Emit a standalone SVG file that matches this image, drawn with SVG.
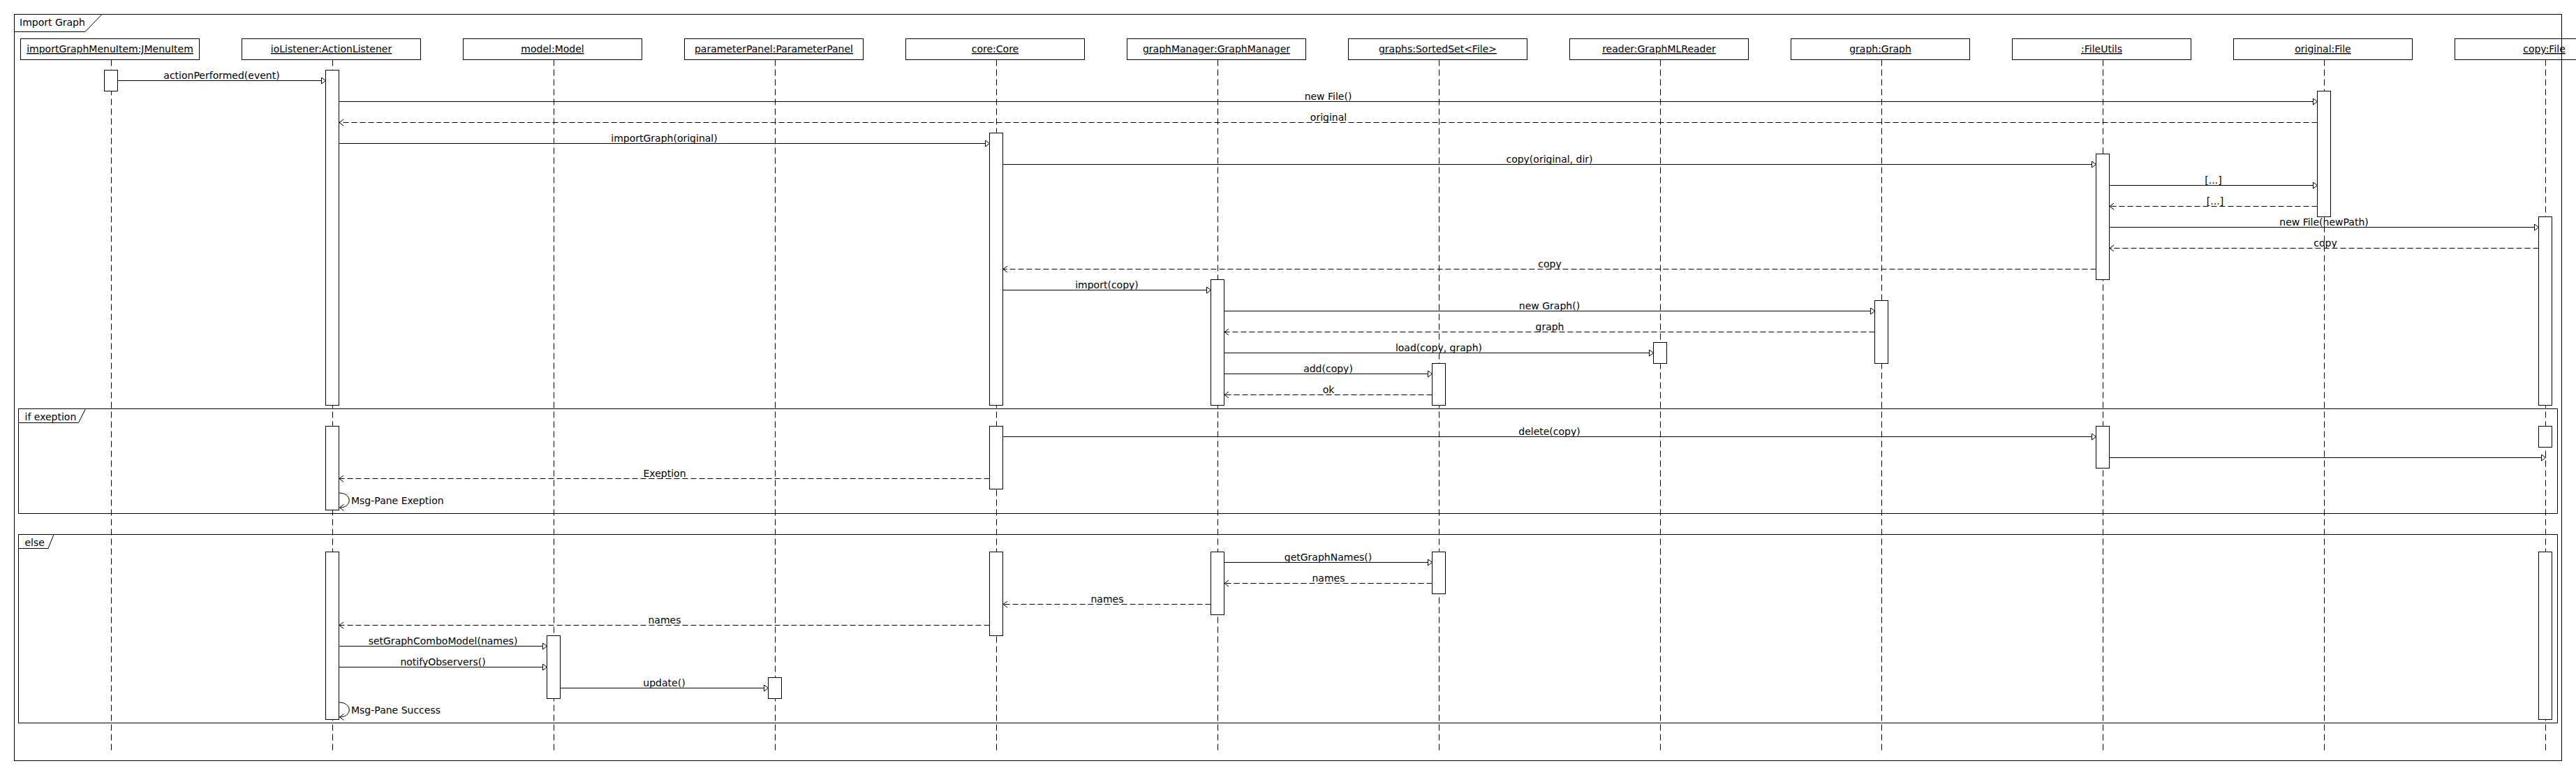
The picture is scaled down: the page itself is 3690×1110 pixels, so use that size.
<svg xmlns="http://www.w3.org/2000/svg" width="3690" height="1110" viewBox="0 0 3690 1110">
<defs>
<marker id="sync" viewBox="0 0 7 10" refX="6.5" refY="5" markerWidth="7" markerHeight="10" markerUnits="userSpaceOnUse" orient="auto"><path d="M0.5,0.5 L6.5,5 L0.5,9.5 Z" fill="#fff" stroke="#000" stroke-width="1"/></marker>
<marker id="open" viewBox="0 0 7 10" refX="6.5" refY="5" markerWidth="7" markerHeight="10" markerUnits="userSpaceOnUse" orient="auto"><path d="M0.5,0.5 L6.5,5 L0.5,9.5" fill="none" stroke="#000" stroke-width="1"/></marker>
</defs>
<style>
text{font-family:"DejaVu Sans","Liberation Sans",sans-serif;font-size:14px;fill:#000}
.hd{fill:#fff;stroke:#000;stroke-width:1}
.nm{text-anchor:middle;text-decoration:underline}
.life{stroke:#000;stroke-width:1;stroke-dasharray:9 5;fill:none}
.act{fill:#fff;stroke:#000;stroke-width:1}
.msg{stroke:#000;stroke-width:1;fill:none;marker-end:url(#sync)}
.ret{stroke:#000;stroke-width:1;fill:none;stroke-dasharray:8 4;marker-end:url(#open)}
.self{stroke:#000;stroke-width:1;fill:none;marker-end:url(#open)}
.lbl{text-anchor:middle}
.frm{fill:none;stroke:#000;stroke-width:1}
.tab{fill:#fff;stroke:#000;stroke-width:1}
</style>
<rect x="0" y="0" width="3690" height="1110" fill="#fff"/>

<g id="importGraphMenuItem">
<line class="life" x1="159.5" y1="85.5" x2="159.5" y2="1075"/>
<rect class="hd" x="29.5" y="55.5" width="256" height="30"/>
<text class="nm" x="157.5" y="75">importGraphMenuItem:JMenuItem</text>
<rect class="act" x="149.5" y="100.5" width="19" height="30"/>
</g>
<g id="ioListener">
<line class="life" x1="476.5" y1="85.5" x2="476.5" y2="1075"/>
<rect class="hd" x="346.5" y="55.5" width="256" height="30"/>
<text class="nm" x="474.5" y="75">ioListener:ActionListener</text>
<rect class="act" x="466.5" y="100.5" width="19" height="480"/>
<rect class="act" x="466.5" y="610.5" width="19" height="120"/>
<rect class="act" x="466.5" y="790.5" width="19" height="240"/>
</g>
<g id="model">
<line class="life" x1="793.5" y1="85.5" x2="793.5" y2="1075"/>
<rect class="hd" x="663.5" y="55.5" width="256" height="30"/>
<text class="nm" x="791.5" y="75">model:Model</text>
<rect class="act" x="783.5" y="910.5" width="19" height="90"/>
</g>
<g id="parameterPanel">
<line class="life" x1="1110.5" y1="85.5" x2="1110.5" y2="1075"/>
<rect class="hd" x="980.5" y="55.5" width="256" height="30"/>
<text class="nm" x="1108.5" y="75">parameterPanel:ParameterPanel</text>
<rect class="act" x="1100.5" y="970.5" width="19" height="30"/>
</g>
<g id="core">
<line class="life" x1="1427.5" y1="85.5" x2="1427.5" y2="1075"/>
<rect class="hd" x="1297.5" y="55.5" width="256" height="30"/>
<text class="nm" x="1425.5" y="75">core:Core</text>
<rect class="act" x="1417.5" y="190.5" width="19" height="390"/>
<rect class="act" x="1417.5" y="610.5" width="19" height="90"/>
<rect class="act" x="1417.5" y="790.5" width="19" height="120"/>
</g>
<g id="graphManager">
<line class="life" x1="1744.5" y1="85.5" x2="1744.5" y2="1075"/>
<rect class="hd" x="1614.5" y="55.5" width="256" height="30"/>
<text class="nm" x="1742.5" y="75">graphManager:GraphManager</text>
<rect class="act" x="1734.5" y="400.5" width="19" height="180"/>
<rect class="act" x="1734.5" y="790.5" width="19" height="90"/>
</g>
<g id="graphs">
<line class="life" x1="2061.5" y1="85.5" x2="2061.5" y2="1075"/>
<rect class="hd" x="1931.5" y="55.5" width="256" height="30"/>
<text class="nm" x="2059.5" y="75">graphs:SortedSet&lt;File&gt;</text>
<rect class="act" x="2051.5" y="520.5" width="19" height="60"/>
<rect class="act" x="2051.5" y="790.5" width="19" height="60"/>
</g>
<g id="reader">
<line class="life" x1="2378.5" y1="85.5" x2="2378.5" y2="1075"/>
<rect class="hd" x="2248.5" y="55.5" width="256" height="30"/>
<text class="nm" x="2376.5" y="75">reader:GraphMLReader</text>
<rect class="act" x="2368.5" y="490.5" width="19" height="30"/>
</g>
<g id="graph">
<line class="life" x1="2695.5" y1="85.5" x2="2695.5" y2="1075"/>
<rect class="hd" x="2565.5" y="55.5" width="256" height="30"/>
<text class="nm" x="2693.5" y="75">graph:Graph</text>
<rect class="act" x="2685.5" y="430.5" width="19" height="90"/>
</g>
<g id="fileUtils">
<line class="life" x1="3012.5" y1="85.5" x2="3012.5" y2="1075"/>
<rect class="hd" x="2882.5" y="55.5" width="256" height="30"/>
<text class="nm" x="3010.5" y="75">:FileUtils</text>
<rect class="act" x="3002.5" y="220.5" width="19" height="180"/>
<rect class="act" x="3002.5" y="610.5" width="19" height="60"/>
</g>
<g id="original">
<line class="life" x1="3329.5" y1="85.5" x2="3329.5" y2="1075"/>
<rect class="hd" x="3199.5" y="55.5" width="256" height="30"/>
<text class="nm" x="3327.5" y="75">original:File</text>
<rect class="act" x="3319.5" y="130.5" width="19" height="180"/>
</g>
<g id="copy">
<line class="life" x1="3646.5" y1="85.5" x2="3646.5" y2="1075"/>
<rect class="hd" x="3516.5" y="55.5" width="256" height="30"/>
<text class="nm" x="3644.5" y="75">copy:File</text>
<rect class="act" x="3636.5" y="310.5" width="19" height="270"/>
<rect class="act" x="3636.5" y="610.5" width="19" height="30"/>
<rect class="act" x="3636.5" y="790.5" width="19" height="240"/>
</g>

<g id="connectors">
<line class="msg" x1="168.5" y1="115.5" x2="466.5" y2="115.5"/>
<text class="lbl" x="317.5" y="112.5">actionPerformed(event)</text>
<line class="msg" x1="485.5" y1="145.5" x2="3319.5" y2="145.5"/>
<text class="lbl" x="1902.5" y="142.5">new File()</text>
<line class="ret" x1="3319.5" y1="175.5" x2="486" y2="175.5"/>
<text class="lbl" x="1903" y="172.5">original</text>
<line class="msg" x1="485.5" y1="205.5" x2="1417.5" y2="205.5"/>
<text class="lbl" x="951.5" y="202.5">importGraph(original)</text>
<line class="msg" x1="1436.5" y1="235.5" x2="3002.5" y2="235.5"/>
<text class="lbl" x="2219.5" y="232.5">copy(original, dir)</text>
<line class="msg" x1="3021.5" y1="265.5" x2="3319.5" y2="265.5"/>
<text class="lbl" x="3170.5" y="262.5">[...]</text>
<line class="ret" x1="3319.5" y1="295.5" x2="3022" y2="295.5"/>
<text class="lbl" x="3173" y="292.5">[...]</text>
<line class="msg" x1="3021.5" y1="325.5" x2="3636.5" y2="325.5"/>
<text class="lbl" x="3329" y="322.5">new File(newPath)</text>
<line class="ret" x1="3636.5" y1="355.5" x2="3022" y2="355.5"/>
<text class="lbl" x="3331" y="352.5">copy</text>
<line class="ret" x1="3002.5" y1="385.5" x2="1437" y2="385.5"/>
<text class="lbl" x="2220" y="382.5">copy</text>
<line class="msg" x1="1436.5" y1="415.5" x2="1734.5" y2="415.5"/>
<text class="lbl" x="1585.5" y="412.5">import(copy)</text>
<line class="msg" x1="1753.5" y1="445.5" x2="2685.5" y2="445.5"/>
<text class="lbl" x="2219.5" y="442.5">new Graph()</text>
<line class="ret" x1="2685.5" y1="475.5" x2="1754" y2="475.5"/>
<text class="lbl" x="2220" y="472.5">graph</text>
<line class="msg" x1="1753.5" y1="505.5" x2="2368.5" y2="505.5"/>
<text class="lbl" x="2061" y="502.5">load(copy, graph)</text>
<line class="msg" x1="1753.5" y1="535.5" x2="2051.5" y2="535.5"/>
<text class="lbl" x="1902.5" y="532.5">add(copy)</text>
<line class="ret" x1="2051.5" y1="565.5" x2="1754" y2="565.5"/>
<text class="lbl" x="1903" y="562.5">ok</text>

<line class="msg" x1="1436.5" y1="625.5" x2="3002.5" y2="625.5"/>
<text class="lbl" x="2219.5" y="622.5">delete(copy)</text>
<line class="msg" x1="3021.5" y1="655.5" x2="3646.5" y2="655.5"/>
<line class="ret" x1="1417.5" y1="685.5" x2="486" y2="685.5"/>
<text class="lbl" x="952" y="682.5">Exeption</text>
<path class="self" d="M485.5,706 C505,706 505,727 486.5,727"/>
<text x="503" y="722">Msg-Pane Exeption</text>

<line class="msg" x1="1753.5" y1="805.5" x2="2051.5" y2="805.5"/>
<text class="lbl" x="1902.5" y="802.5">getGraphNames()</text>
<line class="ret" x1="2051.5" y1="835.5" x2="1754" y2="835.5"/>
<text class="lbl" x="1903" y="832.5">names</text>
<line class="ret" x1="1734.5" y1="865.5" x2="1437" y2="865.5"/>
<text class="lbl" x="1586" y="862.5">names</text>
<line class="ret" x1="1417.5" y1="895.5" x2="486" y2="895.5"/>
<text class="lbl" x="952" y="892.5">names</text>
<line class="msg" x1="485.5" y1="925.5" x2="783.5" y2="925.5"/>
<text class="lbl" x="634.5" y="922.5">setGraphComboModel(names)</text>
<line class="msg" x1="485.5" y1="955.5" x2="783.5" y2="955.5"/>
<text class="lbl" x="634.5" y="952.5">notifyObservers()</text>
<line class="msg" x1="802.5" y1="985.5" x2="1100.5" y2="985.5"/>
<text class="lbl" x="951.5" y="982.5">update()</text>
<path class="self" d="M485.5,1006 C505,1006 505,1027 486.5,1027"/>
<text x="503" y="1022">Msg-Pane Success</text>
</g>

<g id="frames">
<rect class="frm" x="20.5" y="20.5" width="3649" height="1069"/>
<polygon class="tab" points="20.5,20.5 146,20.5 122,45.5 20.5,45.5"/>
<text x="28" y="37">Import Graph</text>
<rect class="frm" x="26.5" y="585.5" width="3637" height="150"/>
<polygon class="tab" points="26.5,585.5 122.5,585.5 112.5,605.5 26.5,605.5"/>
<text x="35.5" y="601.5">if exeption</text>
<rect class="frm" x="26.5" y="765.5" width="3637" height="270"/>
<polygon class="tab" points="26.5,765.5 77,765.5 69,785.5 26.5,785.5"/>
<text x="35.5" y="781.5">else</text>
</g>
</svg>
